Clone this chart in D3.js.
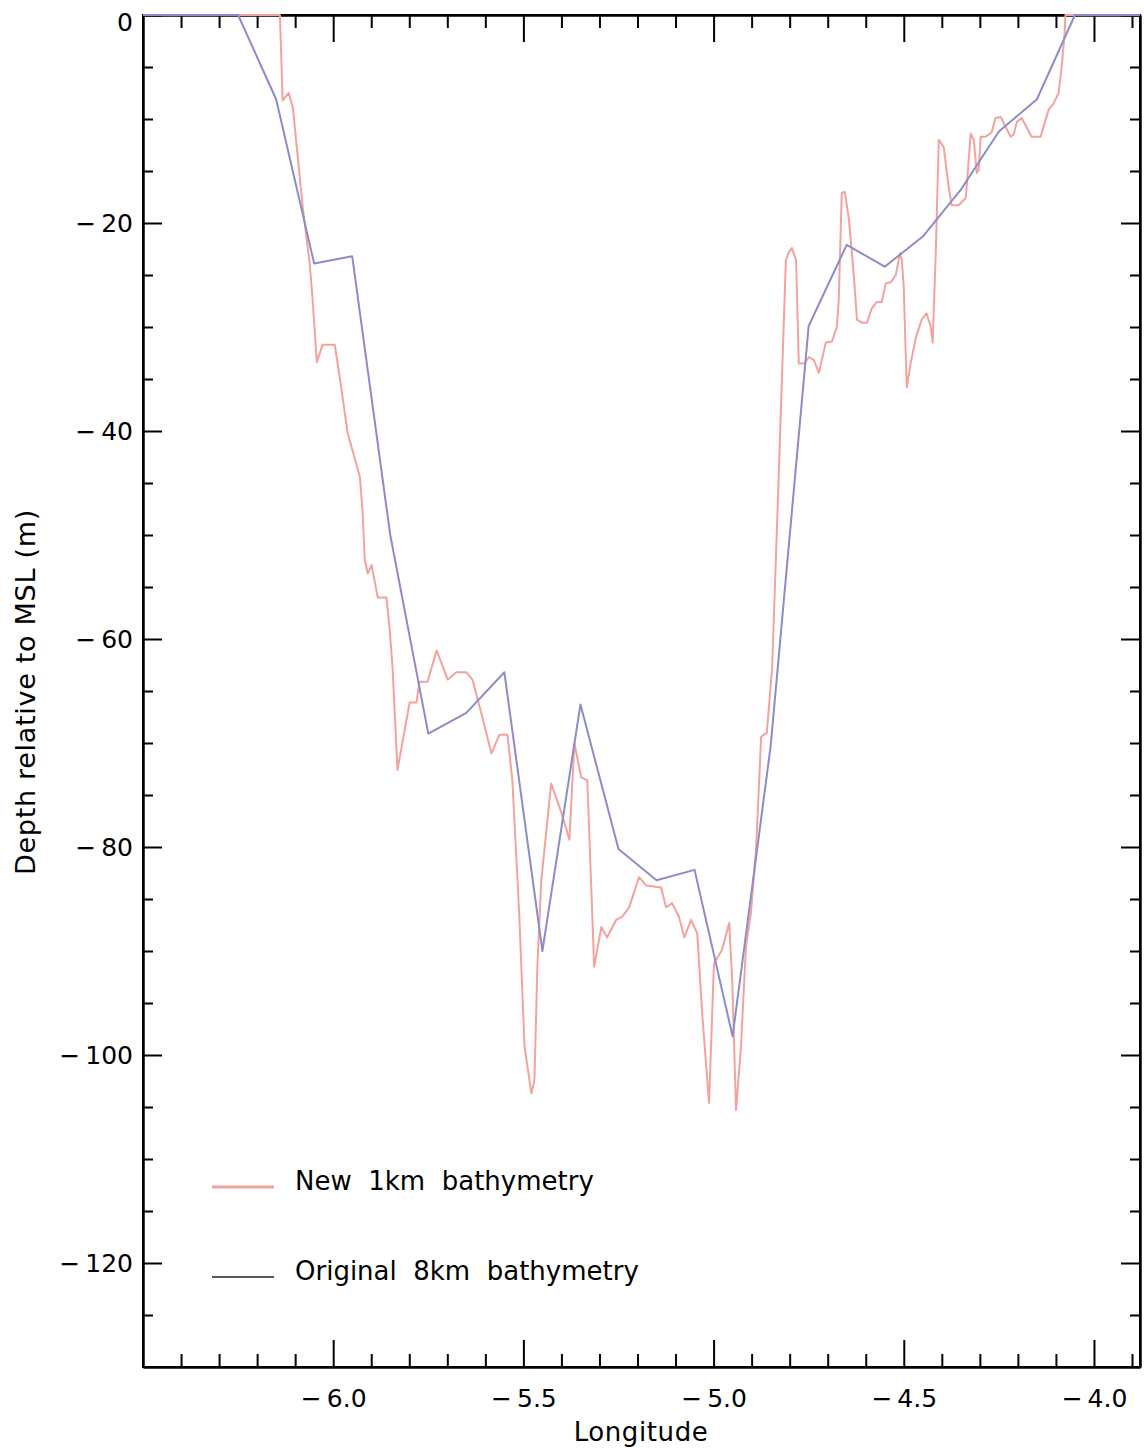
<!DOCTYPE html>
<html>
<head>
<meta charset="utf-8">
<script src="https://cdn.jsdelivr.net/npm/d3@7"></script>
<style>
    body { margin: 0; background: #fff; }
    text { font-family: "DejaVu Sans", sans-serif; fill: #000; }
</style>
</head>
<body>
<div id="graph"></div>
<script>

// original 8km bathymetry
var blueLon = [-6.55, -6.45, -6.35, -6.25, -6.15, -6.05, -5.95, -5.85, -5.75, -5.65, -5.55, -5.45, -5.35, -5.25,
    -5.15, -5.05, -4.95, -4.85, -4.75, -4.65, -4.55, -4.45, -4.35, -4.25, -4.15, -4.05, -3.95, -3.85];
var blueDepth = [0, 0, 0, 0, -8.1, -23.9, -23.2, -50.0, -69.1, -67.1, -63.2, -90.0, -66.3, -80.2,
    -83.2, -82.2, -98.2, -70.3, -29.9, -22.1, -24.2, -21.3, -16.8, -11.2, -8.1, 0, 0, 0];

// new 1km bathymetry
var redLon = [-6.534, -6.140, -6.133, -6.117, -6.106, -6.080, -6.062, -6.054, -6.043, -6.028, -5.996, -5.983,
    -5.962, -5.930, -5.923, -5.917, -5.909, -5.899, -5.883, -5.860, -5.852, -5.844, -5.831, -5.799, -5.781,
    -5.773, -5.752, -5.728, -5.699, -5.676, -5.650, -5.634, -5.608, -5.584, -5.563, -5.542, -5.529, -5.511,
    -5.497, -5.479, -5.471, -5.463, -5.453, -5.427, -5.400, -5.379, -5.366, -5.348, -5.332, -5.319, -5.314,
    -5.295, -5.280, -5.256, -5.240, -5.222, -5.196, -5.177, -5.138, -5.125, -5.109, -5.091, -5.077, -5.059,
    -5.043, -5.030, -5.012, -4.999, -4.978, -4.959, -4.951, -4.941, -4.928, -4.915, -4.902, -4.888, -4.875,
    -4.860, -4.846, -4.828, -4.810, -4.802, -4.794, -4.783, -4.776, -4.762, -4.749, -4.736, -4.723, -4.705,
    -4.689, -4.676, -4.671, -4.663, -4.655, -4.644, -4.631, -4.623, -4.610, -4.597, -4.584, -4.571, -4.558,
    -4.547, -4.534, -4.521, -4.510, -4.505, -4.500, -4.495, -4.492, -4.482, -4.468, -4.453, -4.440, -4.429,
    -4.424, -4.416, -4.408, -4.395, -4.382, -4.374, -4.356, -4.337, -4.324, -4.316, -4.308, -4.303, -4.298,
    -4.285, -4.269, -4.259, -4.245, -4.232, -4.219, -4.211, -4.203, -4.190, -4.177, -4.164, -4.140, -4.133,
    -4.119, -4.106, -4.093, -4.085, -4.077, -4.075, -3.857];
var redDepth = [0, 0, -8.2, -7.5, -8.9, -18.5, -23.8, -27.4, -33.4, -31.7, -31.7, -34.8,
    -40.2, -44.4, -47.6, -52.4, -53.7, -52.9, -56.0, -56.0, -58.9, -62.7, -72.6, -66.1, -66.1,
    -64.1, -64.1, -61.1, -63.9, -63.2, -63.2, -63.9, -67.5, -71.0, -69.2, -69.2, -73.6, -86.4,
    -99.2, -103.7, -102.4, -91.2, -83.2, -73.9, -76.7, -79.3, -70.0, -73.3, -73.6, -86.4, -91.5,
    -87.7, -88.7, -87.0, -86.7, -85.8, -82.9, -83.7, -83.9, -85.8, -85.4, -86.7, -88.7, -87.0,
    -88.3, -96.0, -104.6, -91.2, -89.9, -87.3, -92.8, -105.3, -99.2, -89.6, -86.4, -80.0, -69.4,
    -69.0, -62.7, -43.5, -23.6, -22.8, -22.4, -23.6, -33.5, -33.5, -32.9, -33.2, -34.4, -31.5,
    -31.4, -30.0, -27.4, -17.1, -17.0, -19.7, -25.2, -29.3, -29.6, -29.6, -28.2, -27.6, -27.6,
    -25.8, -25.7, -25.0, -22.9, -23.6, -26.2, -32.5, -35.8, -33.5, -31.0, -29.3, -28.7, -30.0,
    -31.5, -22.9, -12.0, -12.7, -16.5, -18.3, -18.3, -17.6, -11.4, -12.0, -15.2, -14.9, -11.7,
    -11.7, -11.3, -9.9, -9.8, -10.8, -11.7, -11.5, -10.3, -9.9, -10.8, -11.7, -11.7, -10.8,
    -9.1, -8.5, -7.5, -5.0, -1.7, 0, 0];

// axis ticks and labels
var xMajorTicks = [-6.0, -5.5, -5.0, -4.5, -4.0];
var xMinorTicks = [-6.4, -6.3, -6.2, -6.1, -5.9, -5.8, -5.7, -5.6, -5.4, -5.3, -5.2, -5.1,
    -4.9, -4.8, -4.7, -4.6, -4.4, -4.3, -4.2, -4.1, -3.9];
var yMajorTicks = [0, -20, -40, -60, -80, -100, -120];
var yMinorTicks = [-5, -10, -15, -25, -30, -35, -45, -50, -55, -65, -70, -75, -85, -90, -95,
    -105, -110, -115, -125];

var legendLabels = ["New  1km  bathymetry", "Original  8km  bathymetry"];

// init size
var graphWidth = 1144;
var graphHeight = 1452;
var plotLeft = 143;
var plotRight = 1140;
var plotTop = 15;
var plotBottom = 1367;

// init scales
var xScale = d3.scaleLinear()
    .domain([-6.5, -3.879])
    .range([plotLeft, plotRight]);

var yScale = d3.scaleLinear()
    .domain([-130, 0])
    .range([plotBottom, plotTop]);

var minusFormat = function (fmt) {
    var f = d3.format(fmt);
    return d => f(d).replace("\u2212", "\u2212\u2009");
};

// init graph containers
var graphSVG = d3.select("#graph")
    .append("svg")
    .attr("width", graphWidth)
    .attr("height", graphHeight);

graphSVG.append("rect")
    .attr("width", graphWidth)
    .attr("height", graphHeight)
    .attr("fill", "#fff");

graphSVG.append("clipPath")
    .attr("id", "plotClip")
    .append("rect")
    .attr("x", plotLeft)
    .attr("y", 0)
    .attr("width", plotRight - plotLeft)
    .attr("height", plotBottom);

var axes = graphSVG.append("g")
    .attr("class", "axes");

// create axes
createXAxis(plotBottom, d3.axisBottom, true);
createXAxis(plotTop, d3.axisTop, false);
createYAxis(plotLeft, d3.axisLeft, true);
createYAxis(plotRight, d3.axisRight, false);

// top label sits below the frame edge
axes.selectAll(".tick text")
    .filter(d => d === 0)
    .attr("dy", "0.62em");

// frame lines
axes.append("rect")
    .attr("x", plotLeft)
    .attr("y", plotTop)
    .attr("width", plotRight - plotLeft)
    .attr("height", plotBottom - plotTop)
    .attr("fill", "none")
    .attr("stroke", "#000")
    .attr("stroke-width", 2);

// axis titles
graphSVG.append("text")
    .attr("x", 641)
    .attr("y", 1441)
    .attr("text-anchor", "middle")
    .attr("font-size", 26)
    .attr("letter-spacing", 0.6)
    .text("Longitude");

graphSVG.append("text")
    .attr("transform", "translate(35,692) rotate(-90)")
    .attr("text-anchor", "middle")
    .attr("font-size", 27)
    .attr("letter-spacing", 0.7)
    .text("Depth relative to MSL (m)");

// create lines
var lineGen = d3.line()
    .x(d => xScale(d[0]))
    .y(d => yScale(d[1]));

var lines = graphSVG.append("g")
    .attr("class", "lines")
    .attr("clip-path", "url(#plotClip)");

lines.append("path")
    .datum(d3.zip(redLon, redDepth))
    .attr("fill", "none")
    .attr("stroke", "#f4a29e")
    .attr("stroke-width", 2)
    .attr("stroke-linejoin", "round")
    .attr("d", lineGen);

lines.append("path")
    .datum(d3.zip(blueLon, blueDepth))
    .attr("fill", "none")
    .attr("stroke", "#8c8cc8")
    .attr("stroke-width", 2)
    .attr("stroke-linejoin", "round")
    .attr("d", lineGen);

// create legend
createLegendItem(1187, "#f4a29e", 3, legendLabels[0]);
createLegendItem(1277, "#222", 1.5, legendLabels[1]);

// items creation

function createXAxis(pos, axisFn, labels) {

    var major = axisFn(xScale)
        .tickValues(xMajorTicks)
        .tickSizeInner(-27)
        .tickSizeOuter(0)
        .tickPadding(22)
        .tickFormat(labels ? minusFormat(".1f") : "");

    var minor = axisFn(xScale)
        .tickValues(xMinorTicks)
        .tickSizeInner(-13)
        .tickSizeOuter(0)
        .tickFormat("");

    styleAxis(axes.append("g").attr("transform", "translate(0," + pos + ")").call(major));
    styleAxis(axes.append("g").attr("transform", "translate(0," + pos + ")").call(minor));
}

function createYAxis(pos, axisFn, labels) {

    var major = axisFn(yScale)
        .tickValues(yMajorTicks)
        .tickSizeInner(-19)
        .tickSizeOuter(0)
        .tickPadding(10)
        .tickFormat(labels ? minusFormat("d") : "");

    var minor = axisFn(yScale)
        .tickValues(yMinorTicks)
        .tickSizeInner(-10)
        .tickSizeOuter(0)
        .tickFormat("");

    styleAxis(axes.append("g").attr("transform", "translate(" + pos + ",0)").call(major));
    styleAxis(axes.append("g").attr("transform", "translate(" + pos + ",0)").call(minor));
}

function styleAxis(g) {
    g.select(".domain").attr("stroke", "#000").attr("stroke-width", 2);
    g.selectAll(".tick line").attr("stroke", "#000").attr("stroke-width", 2);
    g.selectAll(".tick text")
        .attr("font-family", "DejaVu Sans, sans-serif")
        .attr("font-size", 25)
        .attr("fill", "#000");
}

function createLegendItem(y, color, width, text) {

    var item = graphSVG.append("g")
        .attr("class", "legend");

    item.append("line")
        .attr("x1", 212)
        .attr("x2", 274)
        .attr("y1", y)
        .attr("y2", y)
        .attr("stroke", color)
        .attr("stroke-width", width);

    item.append("text")
        .attr("x", 295)
        .attr("y", y + 3)
        .attr("font-size", 26)
        .attr("xml:space", "preserve")
        .style("white-space", "pre")
        .text(text);
}

</script>
</body>
</html>
